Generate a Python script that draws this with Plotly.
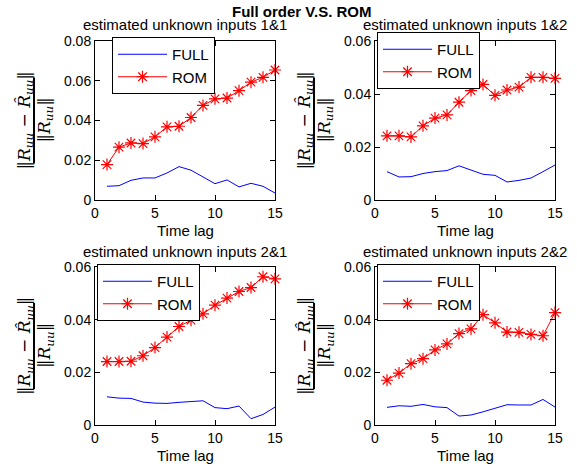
import plotly.graph_objects as go

lags = list(range(1, 16))

full_11 = [0.0069, 0.0072, 0.0099, 0.0111, 0.0111, 0.0136, 0.0168, 0.0150, 0.0116, 0.0082, 0.0101, 0.0066, 0.0084, 0.0069, 0.0035]
rom_11 = [0.0178, 0.0266, 0.0287, 0.0284, 0.0318, 0.0368, 0.0371, 0.0415, 0.0476, 0.0509, 0.0513, 0.0550, 0.0593, 0.0617, 0.0654]

full_12 = [0.0107, 0.0087, 0.0088, 0.0100, 0.0107, 0.0111, 0.0129, 0.0113, 0.0097, 0.0093, 0.0068, 0.0074, 0.0083, 0.0107, 0.0132]
rom_12 = [0.0242, 0.0242, 0.0238, 0.0280, 0.0309, 0.0321, 0.0369, 0.0413, 0.0436, 0.0395, 0.0415, 0.0426, 0.0463, 0.0463, 0.0459]

full_21 = [0.0107, 0.0102, 0.0101, 0.0087, 0.0083, 0.0082, 0.0086, 0.0089, 0.0092, 0.0066, 0.0062, 0.0072, 0.0024, 0.0040, 0.0068]
rom_21 = [0.0241, 0.0241, 0.0242, 0.0263, 0.0294, 0.0334, 0.0374, 0.0398, 0.0422, 0.0455, 0.0482, 0.0507, 0.0522, 0.0563, 0.0555]

full_22 = [0.0067, 0.0073, 0.0071, 0.0078, 0.0069, 0.0066, 0.0034, 0.0038, 0.0050, 0.0064, 0.0077, 0.0076, 0.0076, 0.0097, 0.0068]
rom_22 = [0.0170, 0.0197, 0.0233, 0.0252, 0.0285, 0.0308, 0.0347, 0.0365, 0.0419, 0.0388, 0.0353, 0.0352, 0.0344, 0.0339, 0.0427]

titles = ["estimated unknown inputs 1&1", "estimated unknown inputs 1&2",
          "estimated unknown inputs 2&1", "estimated unknown inputs 2&2"]
y_max = [0.08, 0.06, 0.06, 0.06]
main_title = "Full order V.S. ROM"
x_label = "Time lag"
x_ticks = [0, 5, 10, 15]

W, H = 577, 472
FONT = "Liberation Sans, Arial, sans-serif"

# plot boxes in page pixels: (left, right, top, bottom)
boxes = [(95, 275, 41, 200), (375, 555, 41, 200), (95, 275, 267, 425), (375, 555, 267, 425)]
legend_pos = [(112, 37), (377, 32), (97, 264), (377, 264)]

def px(x):
    return x / W

def py(y):
    return 1 - y / H

fig = go.Figure()
data = [(full_11, rom_11), (full_12, rom_12), (full_21, rom_21), (full_22, rom_22)]

for i, (full, rom) in enumerate(data):
    n = "" if i == 0 else str(i + 1)
    leg = "legend" + n
    fig.add_trace(go.Scatter(x=lags, y=full, mode="lines", name="FULL",
                             line=dict(color="#0000ff", width=1),
                             xaxis="x" + n, yaxis="y" + n, legend=leg, cliponaxis=False))
    fig.add_trace(go.Scatter(x=lags, y=rom, mode="lines+markers", name="ROM",
                             line=dict(color="#ff0000", width=1),
                             marker=dict(symbol="asterisk", size=10, color="#ff0000",
                                         line=dict(color="#ff0000", width=1.2)),
                             xaxis="x" + n, yaxis="y" + n, legend=leg, cliponaxis=False))

layout = dict(template="none", width=W, height=H,
              margin=dict(l=0, r=0, t=0, b=0, pad=0, autoexpand=False),
              paper_bgcolor="white", plot_bgcolor="white",
              font=dict(family=FONT, size=14, color="black"), showlegend=True)

axis_common = dict(showgrid=False, zeroline=False, showline=True, linecolor="black",
                   linewidth=1, mirror="ticks", ticks="inside", ticklen=5,
                   tickcolor="black", automargin=False,
                   tickfont=dict(size=14, family=FONT, color="black"))

annotations = []
shapes = []
for i, (l, r, t, b) in enumerate(boxes):
    n = "" if i == 0 else str(i + 1)
    layout["xaxis" + n] = dict(axis_common, domain=[px(l), px(r)], range=[0, 15],
                               tickvals=x_ticks, anchor="y" + n)
    layout["yaxis" + n] = dict(axis_common, domain=[py(b), py(t)], range=[0, y_max[i]],
                               dtick=0.02, tick0=0, anchor="x" + n)
    lx, ly = legend_pos[i]
    layout["legend" + n] = dict(x=px(lx), y=py(ly), xanchor="left", yanchor="top",
                                bgcolor="white", bordercolor="black", borderwidth=1,
                                font=dict(size=15, family=FONT, color="black"),
                                itemwidth=49)
    cx = (l + r) / 2
    cy = (t + b) / 2
    annotations.append(dict(text=titles[i], x=px(cx), y=py(t - 16), xref="paper", yref="paper",
                            showarrow=False, font=dict(size=15, family=FONT, color="black"),
                            xanchor="center", yanchor="middle"))
    annotations.append(dict(text=x_label, x=px(cx), y=py(b + 30), xref="paper", yref="paper",
                            showarrow=False, font=dict(size=15, family=FONT, color="black"),
                            xanchor="center", yanchor="middle"))
    bx = l - 61
    annotations.append(dict(text="‖<i>R</i><sub><i>uu</i></sub> − <i>R̂</i><sub><i>uu</i></sub>‖",
                            x=px(bx - 9), y=py(cy), xref="paper", yref="paper", textangle=-90,
                            showarrow=False, font=dict(size=17, family="DejaVu Serif, serif", color="black"),
                            xanchor="center", yanchor="middle"))
    annotations.append(dict(text="‖<i>R</i><sub><i>uu</i></sub>‖",
                            x=px(bx + 11), y=py(cy), xref="paper", yref="paper", textangle=-90,
                            showarrow=False, font=dict(size=17, family="DejaVu Serif, serif", color="black"),
                            xanchor="center", yanchor="middle"))
    shapes.append(dict(type="line", xref="paper", yref="paper", x0=px(bx), x1=px(bx),
                       y0=py(cy - 43), y1=py(cy + 43), line=dict(color="black", width=2)))

annotations.append(dict(text="<b>" + main_title + "</b>", x=px(301), y=py(11), xref="paper", yref="paper",
                        showarrow=False, font=dict(size=15, family=FONT, color="black"),
                        xanchor="center", yanchor="middle"))

layout["annotations"] = annotations
layout["shapes"] = shapes
fig.update_layout(**layout)
fig.write_html("out.html", config={"displayModeBar": False},
               post_script="document.body.style.margin = '0';")
